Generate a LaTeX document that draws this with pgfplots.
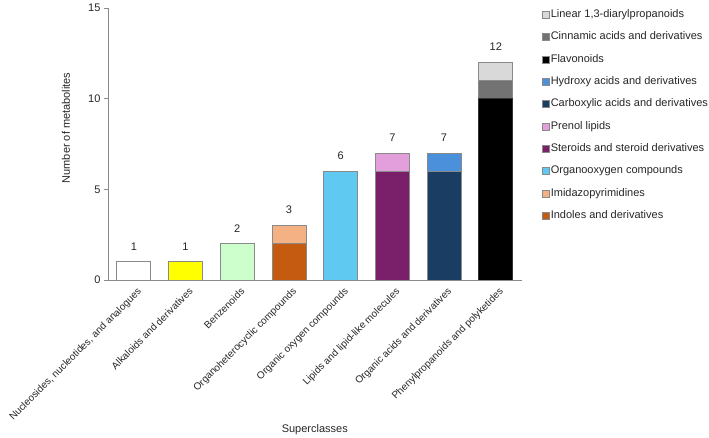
\documentclass[border=0pt]{standalone}
\usepackage{fontspec}
\setmainfont{Liberation Sans}
\usepackage{pgfplots}
\pgfplotsset{compat=1.18}
\definecolor{cAlk}{HTML}{FFFF00}
\definecolor{cBen}{HTML}{CCFFCC}
\definecolor{cInd}{HTML}{C55A11}
\definecolor{cImi}{HTML}{F4B183}
\definecolor{cOrg}{HTML}{5FC9F1}
\definecolor{cSte}{HTML}{7A1F6A}
\definecolor{cPre}{HTML}{E39EDC}
\definecolor{cCar}{HTML}{1A3D64}
\definecolor{cHyd}{HTML}{4A90DA}
\definecolor{cFla}{HTML}{000000}
\definecolor{cCin}{HTML}{737373}
\definecolor{cLin}{HTML}{D9D9D9}
\definecolor{cEdge}{HTML}{8A8A8A}
\definecolor{cTxt}{HTML}{262626}
\begin{document}
\begin{tikzpicture}[x=1pt,y=1pt]
\path[use as bounding box] (-108,-158) rectangle (601,280);
\begin{axis}[
  at={(0,0)}, anchor=south west,
  scale only axis, width=413.6pt, height=272pt,
  ybar=0pt, bar width=34pt,
  xmin=-0.5, xmax=7.5, ymin=0, ymax=15,
  axis lines=left, axis line style={cEdge, line width=0.8pt, -},
  xtick={0,...,7},
  xticklabels={{Nucleosides, nucleotides, and analogues},{Alkaloids and derivatives},{Benzenoids},{Organoheterocyclic compounds},{Organic oxygen compounds},{Lipids and lipid-like molecules},{Organic acids and derivatives},{Phenylpropanoids and polyketides}},
  xticklabel style={rotate=45, anchor=north east, font=\fontsize{10}{12}\selectfont, text=cTxt, inner sep=1pt, xshift=1pt, yshift=-3pt},
  x tick style={draw=none},
  ytick={0,5,10,15},
  yticklabel style={font=\fontsize{11}{13}\selectfont, text=cTxt},
  y tick style={cEdge, line width=0.8pt},
  tick align=outside, major tick length=4pt,
  /pgf/number format/assume math mode=true,
  xlabel={Superclasses},
  xlabel style={at={(axis description cs:0.5,0)}, anchor=center, yshift=-150pt, font=\fontsize{11}{13}\selectfont, text=cTxt},
  ylabel={Number of metabolites},
  ylabel style={at={(axis description cs:-0.1016,0.559)}, anchor=center, font=\fontsize{11}{13}\selectfont, text=cTxt},
  legend cell align=left,
  legend image code/.code={\draw[#1, draw=cEdge, line width=0.5pt] (0pt,-3.5pt) rectangle (7pt,3.5pt);},
  legend style={draw=none, fill=none, at={(1,1)}, anchor=north west, xshift=17pt, yshift=2pt,
    font=\fontsize{11}{13}\selectfont, text=cTxt, row sep=8.8pt,
    nodes={inner sep=1.5pt, text height=8pt, text depth=2.5pt}},
  every node near coord/.append style={font=\fontsize{11}{13}\selectfont, text=cTxt, yshift=8pt},
]
% segments drawn from the top of each stack down (value = cumulative top of segment)
\addplot[bar shift=0pt, fill=cLin, draw=cEdge, line width=0.8pt] coordinates {(7,12)};
\addlegendentry{Linear 1,3-diarylpropanoids}
\addplot[bar shift=0pt, fill=cCin, draw=cEdge, line width=0.8pt] coordinates {(7,11)};
\addlegendentry{Cinnamic acids and derivatives}
\addplot[bar shift=0pt, fill=cFla, draw=black!80, line width=0.8pt] coordinates {(7,10)};
\addlegendentry{Flavonoids}
\addplot[bar shift=0pt, fill=cHyd, draw=cEdge, line width=0.8pt] coordinates {(6,7)};
\addlegendentry{Hydroxy acids and derivatives}
\addplot[bar shift=0pt, fill=cCar, draw=cEdge, line width=0.8pt] coordinates {(6,6)};
\addlegendentry{Carboxylic acids and derivatives}
\addplot[bar shift=0pt, fill=cPre, draw=cEdge, line width=0.8pt] coordinates {(5,7)};
\addlegendentry{Prenol lipids}
\addplot[bar shift=0pt, fill=cSte, draw=cEdge, line width=0.8pt] coordinates {(5,6)};
\addlegendentry{Steroids and steroid derivatives}
\addplot[bar shift=0pt, fill=cOrg, draw=cEdge, line width=0.8pt] coordinates {(4,6)};
\addlegendentry{Organooxygen compounds}
\addplot[bar shift=0pt, fill=cImi, draw=cEdge, line width=0.8pt] coordinates {(3,3)};
\addlegendentry{Imidazopyrimidines}
\addplot[bar shift=0pt, fill=cInd, draw=cEdge, line width=0.8pt] coordinates {(3,2)};
\addlegendentry{Indoles and derivatives}
\addplot[forget plot, bar shift=0pt, fill=white, draw=cEdge, line width=0.8pt] coordinates {(0,1)};
\addplot[forget plot, bar shift=0pt, fill=cAlk, draw=cEdge, line width=0.8pt] coordinates {(1,1)};
\addplot[forget plot, bar shift=0pt, fill=cBen, draw=cEdge, line width=0.8pt] coordinates {(2,2)};
% totals
\addplot[forget plot, bar shift=0pt, draw=none, fill=none, nodes near coords]
  coordinates {(0,1) (1,1) (2,2) (3,3) (4,6) (5,7) (6,7) (7,12)};
\end{axis}
\end{tikzpicture}
\end{document}
